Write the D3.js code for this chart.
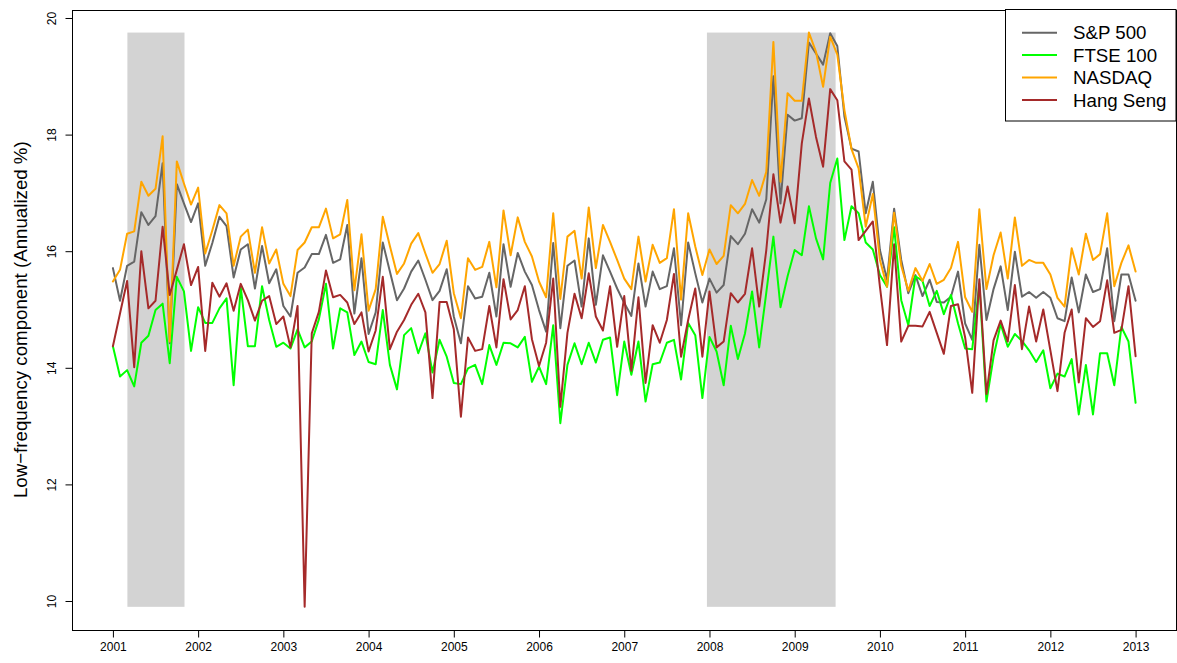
<!DOCTYPE html>
<html>
<head>
<meta charset="utf-8">
<script src="https://cdn.jsdelivr.net/npm/d3@7"></script>
<style>
  body { margin: 0; background: #fff; }
  svg { display: block; font-family: "Liberation Sans", Arial, sans-serif; }
</style>
</head>
<body>
<svg id="chart" width="1177" height="663"></svg>
<script>
// monthly observations, Jan 2001 .. Jan 2013
const startYear = 2001;
const xTicks = [2001, 2002, 2003, 2004, 2005, 2006, 2007, 2008, 2009, 2010, 2011, 2012, 2013];
const yTicks = [10, 12, 14, 16, 18, 20];
const recessions = [[2001.17, 2001.84], [2007.97, 2009.48]];
const seriesNames = ['S&P 500', 'FTSE 100', 'NASDAQ', 'Hang Seng'];

const sp500 = [
  15.71, 15.15, 15.75, 15.82, 16.67, 16.45, 16.60, 17.51, 14.42, 17.15, 16.82, 16.50, 16.82, 15.75, 16.14, 16.59,
  16.43, 15.55, 16.03, 16.12, 15.36, 16.09, 15.45, 15.69, 15.06, 14.88, 15.63, 15.72, 15.95, 15.95, 16.28, 15.80,
  15.86, 16.45, 14.93, 15.88, 14.58, 14.95, 16.15, 15.65, 15.16, 15.36, 15.65, 15.84, 15.51, 15.16, 15.32, 15.69,
  14.88, 14.42, 15.40, 15.19, 15.22, 15.63, 14.88, 16.12, 15.39, 15.97, 15.65, 15.42, 14.99, 14.62, 16.14, 14.68,
  15.75, 15.84, 15.05, 16.22, 15.08, 15.93, 15.65, 15.36, 15.11, 14.89, 15.79, 15.05, 15.65, 15.35, 15.40, 16.05, 14.73,
  16.15, 15.62, 15.12, 15.53, 15.29, 15.42, 16.26, 16.12, 16.30, 16.72, 16.49, 16.89, 19.00, 16.82, 18.34, 18.24,
  18.28, 19.58, 19.39, 19.20, 19.74, 19.52, 18.31, 17.76, 17.71, 16.65, 17.19, 16.02, 15.51, 16.73, 15.85,
  15.28, 15.59, 15.23, 15.51, 15.13, 15.12, 15.22, 15.65, 14.76, 14.48, 16.11, 14.82, 15.35, 15.74, 14.99, 15.99, 15.22,
  15.30, 15.20, 15.30, 15.20, 14.85, 14.80, 15.55, 14.95, 15.60, 15.30, 15.35, 16.05, 14.80, 15.60, 15.60, 15.15
];
const ftse100 = [
  14.37, 13.85, 13.96, 13.68, 14.43, 14.55, 14.99, 15.10, 14.08, 15.56, 15.31, 14.29, 15.04, 14.77, 14.77, 15.02,
  15.19, 13.70, 15.38, 14.37, 14.37, 15.40, 14.82, 14.36, 14.43, 14.33, 14.66, 14.35, 14.45, 14.83, 15.44, 14.33,
  15.02, 14.95, 14.22, 14.45, 14.10, 14.06, 14.99, 14.05, 13.63, 14.56, 14.68, 14.25, 14.59, 13.92, 14.48, 14.19,
  13.74, 13.72, 13.99, 14.05, 13.72, 14.39, 14.05, 14.43, 14.42, 14.35, 14.53, 13.76, 14.02, 13.72, 14.73, 13.05,
  14.05, 14.42, 14.06, 14.43, 14.09, 14.48, 14.52, 13.53, 14.45, 13.88, 14.45, 13.42, 14.06, 14.09, 14.43, 14.48, 13.80,
  14.77, 14.56, 13.48, 14.53, 14.28, 13.70, 14.72, 14.15, 14.59, 15.31, 14.35, 15.29, 16.25, 15.04, 15.57, 16.02,
  15.93, 16.77, 16.22, 15.86, 17.17, 17.59, 16.19, 16.77, 16.65, 16.15, 16.03, 15.59, 15.39, 16.41, 15.16,
  14.73, 15.57, 15.49, 15.06, 15.32, 14.92, 15.25, 14.76, 14.33, 14.32, 15.44, 13.42, 14.19, 14.75, 14.36, 14.58, 14.46,
  14.30, 14.10, 14.30, 13.65, 13.90, 13.85, 14.15, 13.20, 14.05, 13.20, 14.25, 14.25, 13.70, 14.70, 14.45, 13.40
];
const nasdaq = [
  15.48, 15.68, 16.30, 16.34, 17.19, 16.95, 17.07, 17.97, 14.45, 17.54, 17.16, 16.80, 17.09, 15.96, 16.36, 16.79,
  16.65, 15.75, 16.25, 16.37, 15.63, 16.41, 15.79, 16.03, 15.44, 15.23, 16.02, 16.15, 16.41, 16.41, 16.73, 16.22,
  16.29, 16.88, 15.33, 16.29, 14.98, 15.35, 16.59, 16.09, 15.61, 15.79, 16.13, 16.31, 15.96, 15.63, 15.78, 16.18,
  15.28, 14.85, 15.88, 15.68, 15.73, 16.16, 15.38, 16.70, 15.93, 16.58, 16.16, 15.91, 15.48, 15.21, 16.65, 15.18,
  16.25, 16.35, 15.53, 16.75, 15.71, 16.45, 16.16, 15.85, 15.53, 15.35, 16.25, 15.48, 16.11, 15.80, 15.88, 16.72, 15.17,
  16.65, 16.08, 15.59, 16.03, 15.78, 15.92, 16.79, 16.65, 16.81, 17.22, 16.95, 17.36, 19.59, 17.19, 18.71, 18.58,
  18.58, 19.75, 19.42, 18.82, 19.68, 19.37, 18.42, 17.75, 17.42, 16.42, 16.98, 15.85, 15.39, 16.66, 15.75,
  15.32, 15.71, 15.49, 15.78, 15.44, 15.51, 15.71, 16.16, 15.21, 14.96, 16.72, 15.35, 15.93, 16.32, 15.53, 16.58, 15.75,
  15.85, 15.80, 15.80, 15.60, 15.20, 15.05, 16.05, 15.60, 16.30, 15.85, 15.95, 16.65, 15.40, 15.80, 16.10, 15.65
];
const hangSeng = [
  14.37, 14.93, 15.49, 14.01, 16.00, 15.02, 15.15, 16.42, 15.25, 15.68, 16.12, 15.42, 15.73, 14.29, 15.46, 15.22,
  15.45, 14.98, 15.44, 15.16, 14.81, 15.15, 15.23, 14.75, 14.88, 14.35, 15.06, 9.90, 14.59, 14.96, 15.67, 15.21,
  15.25, 15.12, 14.75, 14.95, 14.28, 14.64, 15.56, 14.32, 14.62, 14.82, 15.08, 15.27, 14.95, 13.48, 15.13, 15.13,
  14.66, 13.16, 14.52, 14.29, 14.32, 15.06, 14.35, 15.52, 14.83, 14.99, 15.40, 14.49, 14.03, 14.43, 15.53, 13.33,
  14.60, 15.27, 14.85, 15.62, 14.88, 14.64, 15.40, 14.36, 15.23, 13.95, 15.21, 13.74, 14.73, 14.43, 14.82, 15.61, 14.19,
  14.82, 15.36, 14.19, 15.31, 14.35, 14.45, 15.28, 15.12, 15.27, 16.05, 15.05, 16.02, 17.32, 16.49, 17.11, 16.48,
  17.85, 18.62, 17.96, 17.45, 18.78, 18.59, 17.54, 17.40, 16.19, 16.35, 16.51, 15.39, 14.39, 16.12, 14.45,
  14.72, 14.72, 14.71, 14.96, 14.60, 14.24, 15.06, 15.09, 14.52, 13.57, 15.52, 13.55, 14.47, 14.81, 14.45, 15.42, 14.32,
  15.05, 14.45, 15.00, 14.30, 13.60, 14.60, 15.00, 13.75, 14.85, 14.70, 14.80, 15.50, 14.60, 14.65, 15.40, 14.20
];

const width = 1177;
const height = 663;
const plot = { left: 72, right: 1176.5, top: 9.6, bottom: 629.8 };
const colors = ['#666666', '#00FF00', '#FFA500', '#A52A2A'];
const allSeries = [sp500, ftse100, nasdaq, hangSeng];

let svg = d3.select('#chart');
let xScale, yScale, xAxis, yAxis, line;

// R style axis limits: data range widened by 4%
let yMin = d3.min(allSeries, s => d3.min(s));
let yMax = d3.max(allSeries, s => d3.max(s));
let xFirst = startYear;
let xLast = startYear + (sp500.length - 1) / 12;
let yPad = (yMax - yMin) * 0.04;
let xPad = (xLast - xFirst) * 0.04;

xScale = d3.scaleLinear()
    .domain([xFirst - xPad, xLast + xPad])
    .range([plot.left, plot.right]);
yScale = d3.scaleLinear()
    .domain([yMin - yPad, yMax + yPad])
    .range([plot.bottom, plot.top]);

// recession shading
svg.selectAll('.shade')
    .data(recessions)
    .enter()
    .append('rect')
    .attr('class', 'shade')
    .attr('x', d => xScale(d[0]))
    .attr('width', d => xScale(d[1]) - xScale(d[0]))
    .attr('y', yScale(yMax))
    .attr('height', yScale(yMin) - yScale(yMax))
    .attr('fill', '#D3D3D3');

// series lines
line = d3.line()
    .x((d, i) => xScale(startYear + i / 12))
    .y(d => yScale(d));

svg.selectAll('.series')
    .data(allSeries)
    .enter()
    .append('path')
    .attr('class', 'series')
    .attr('d', d => line(d))
    .attr('fill', 'none')
    .attr('stroke', (d, i) => colors[i])
    .attr('stroke-width', 2)
    .attr('stroke-linejoin', 'round')
    .attr('stroke-linecap', 'round');

// plot frame
svg.append('rect')
    .attr('x', Math.round(plot.left) + 0.5)
    .attr('y', Math.round(plot.top) + 0.5)
    .attr('width', Math.round(plot.right - plot.left) - 1)
    .attr('height', Math.round(plot.bottom - plot.top))
    .attr('fill', 'none')
    .attr('stroke', '#000')
    .attr('stroke-width', 1);

// x axis
xAxis = d3.axisBottom(xScale)
    .tickValues(xTicks)
    .tickFormat(d3.format('d'))
    .tickSize(7)
    .tickPadding(5);
let xAxisGroup = svg.append('g')
    .attr('transform', `translate(0,${Math.round(plot.bottom) + 0.5})`)
    .call(xAxis);
xAxisGroup.select('.domain').remove();
xAxisGroup.selectAll('text')
    .attr('font-size', '12px')
    .attr('font-family', '"Liberation Sans", Arial, sans-serif')
    .attr('fill', '#000');

// y axis, labels parallel to the axis
yAxis = d3.axisLeft(yScale)
    .tickValues(yTicks)
    .tickSize(7);
let yAxisGroup = svg.append('g')
    .attr('transform', `translate(${Math.round(plot.left) + 0.5},0)`)
    .call(yAxis);
yAxisGroup.select('.domain').remove();
yAxisGroup.selectAll('text')
    .attr('x', 0)
    .attr('dy', 0)
    .attr('transform', 'translate(-17,0) rotate(-90)')
    .attr('text-anchor', 'middle')
    .attr('font-size', '12px')
    .attr('font-family', '"Liberation Sans", Arial, sans-serif')
    .attr('fill', '#000');

// y axis title
svg.append('text')
    .attr('transform', `translate(27,${(plot.top + plot.bottom) / 2}) rotate(-90)`)
    .attr('text-anchor', 'middle')
    .attr('font-size', '18.7px')
    .attr('fill', '#000')
    .text('Low\u2212frequency component (Annualized %)');

// legend, top right
let legend = svg.append('g')
    .attr('transform', 'translate(1005.5,9.5)');
legend.append('rect')
    .attr('width', 170.5)
    .attr('height', 111.5)
    .attr('fill', '#fff')
    .attr('stroke', '#000');
let rows = legend.selectAll('.row')
    .data(seriesNames)
    .enter()
    .append('g')
    .attr('class', 'row')
    .attr('transform', (d, i) => `translate(0,${23.2 + i * 22.4})`);
rows.append('line')
    .attr('x1', 16.5)
    .attr('x2', 51.5)
    .attr('stroke', (d, i) => colors[i])
    .attr('stroke-width', 2);
rows.append('text')
    .attr('x', 67.5)
    .attr('dy', '0.36em')
    .attr('font-size', '18.7px')
    .attr('fill', '#000')
    .text(d => d);
</script>
</body>
</html>
